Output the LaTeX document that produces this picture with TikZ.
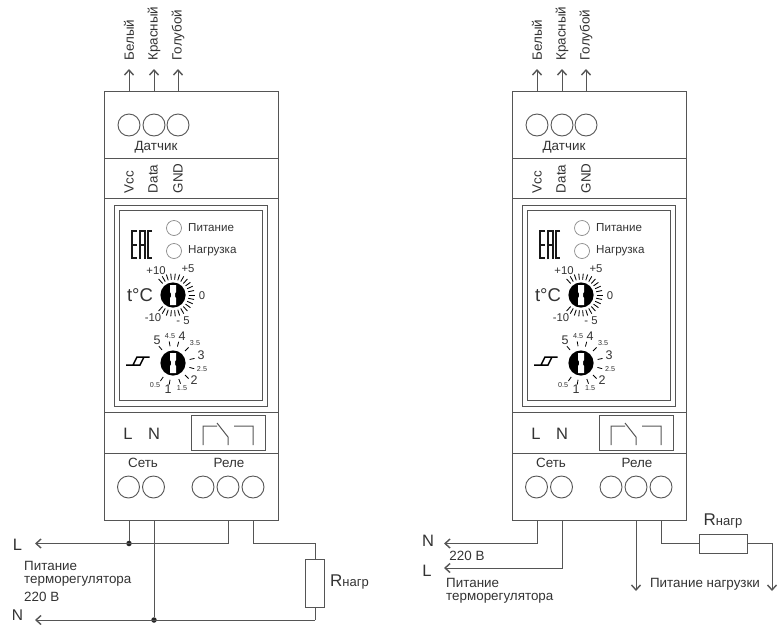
\documentclass[tikz,border=0pt]{standalone}
\usepackage{fontspec}
\setmainfont{Liberation Sans}
\definecolor{wirec}{HTML}{555555}
\definecolor{ledc}{HTML}{8A8A8A}
\definecolor{txtc}{HTML}{333333}
\usetikzlibrary{arrows.meta}
\tikzset{
  wire/.style={draw=wirec,line width=1pt},
  arr/.style={wire,-{Straight Barb[length=5pt,width=9pt,line width=1.4pt]}},
  term/.style={circle,draw=wirec,line width=0.9pt,minimum size=22pt,inner sep=0pt},
  led/.style={circle,draw=ledc,line width=0.7pt,minimum size=15pt,inner sep=0pt},
  lab/.style={inner sep=0pt,text=txtc,font=\fontsize{13.4}{15}\selectfont},
  panel/.style={lab,font=\fontsize{11.6}{13}\selectfont},
  big/.style={lab,font=\fontsize{16.5}{18}\selectfont},
  num/.style={lab,font=\fontsize{11.3}{13}\selectfont},
  sm/.style={lab,font=\fontsize{7.2}{8}\selectfont},
  md/.style={lab,font=\fontsize{12.5}{14}\selectfont},
  dot/.style={circle,fill=black!85,inner sep=0pt,minimum size=5.5pt},
  resis/.style={draw=wirec,line width=1pt,fill=white,inner sep=0pt},
  frame/.style={draw=wirec,line width=1pt},
}
\newcommand\knob[2]{%
  \fill[black] (#1,#2) circle (12.6);
  \fill[white] (#1-3,#2-10) -- (#1+3,#2-10) -- (#1+3,#2-3) -- (#1+2,#2-1.5) -- (#1+2,#2+1.5) -- (#1+3,#2+3) -- (#1+3,#2+10) -- (#1-3,#2+10) -- (#1-3,#2+3) -- (#1-2,#2+1.5) -- (#1-2,#2-1.5) -- (#1-3,#2-3) -- cycle;
}
\newcommand\device[1]{%
  \draw[frame] (104,91) rectangle (278,520);
  \draw[frame] (104,158) -- (278,158) (104,198) -- (278,198) (104,412) -- (278,412) (104,453) -- (278,453);
  \draw[frame] (114,205) rectangle (267,406);
  \draw[frame,line width=0.9pt] (119,210.5) rectangle (262.5,400.5);
  % top terminals
  \node[term] (#1t1) at (129,125) {};
  \node[term] (#1t2) at (154,125) {};
  \node[term] (#1t3) at (178,125) {};
  \coordinate (#1a1) at (129,91); \coordinate (#1b1) at (129,69);
  \coordinate (#1a2) at (154,91); \coordinate (#1b2) at (154,69);
  \coordinate (#1a3) at (178,91); \coordinate (#1b3) at (178,69);
  \draw[arr] (#1a1) -- (#1b1);
  \draw[arr] (#1a2) -- (#1b2);
  \draw[arr] (#1a3) -- (#1b3);
  \node[lab,rotate=90,anchor=west] (#1w1) at (129,60.7) {Белый};
  \node[lab,rotate=90,anchor=west] (#1w2) at (154,60.7) {Красный};
  \node[lab,rotate=90,anchor=west] (#1w3) at (178,60.7) {Голубой};
  \node[lab] (#1dat) at (156,147.5) {Датчик};
  \node[lab,rotate=90,anchor=west] (#1vcc) at (129,193.3) {Vcc};
  \node[lab,rotate=90,anchor=west] (#1data) at (153,193.3) {Data};
  \node[lab,rotate=90,anchor=west] (#1gnd) at (178,193.3) {GND};
  % leds
  \node[led] (#1led1) at (174,228) {};
  \node[led] (#1led2) at (174,251) {};
  \node[panel,anchor=west] (#1pit) at (188,228) {Питание};
  \node[panel,anchor=west] (#1nag) at (188,251) {Нагрузка};
  % EAC
  \draw[black!90,line width=2pt] (137,230.5) -- (131.5,230.5) -- (131.5,258) -- (137,258) (131.5,244.5) -- (136.5,244.5)
     (139.8,259) -- (139.8,230.5) -- (144.8,230.5) -- (144.8,259) (139.8,245) -- (144.8,245)
     (152,230.5) -- (147.8,230.5) -- (147.8,258) -- (152,258);
  % knobs
  \knob{173}{295}
  \foreach \a in {-132,-120,-108,-96,-84,-72,-60,-48,-36,-24,-12,0,12,24,36,48,60,72,84,96,108,120,132}
    \draw[black,line width=0.85pt] (173,295) ++(-\a:15.5) -- ++(-\a:6);
  \node[font=\fontsize{18.5}{20}\selectfont,text=txtc,inner sep=0pt] (#1tc) at (140,295) {t°C};
  \node[num] (#1m1) at (156,271) {+10};
  \node[num] (#1m2) at (188,269) {+5};
  \node[num] (#1m3) at (202,295.5) {0};
  \node[num] (#1m4) at (153,318) {-10};
  \node[num] (#1m5) at (183,321) {- 5};
  \knob{173}{363}
  \foreach \a in {130,100,75,45,12,-15,-45,-70,-100,-125}
    \draw[black,line width=0.8pt] (173,363) ++(-\a:17) -- ++(-\a:5);
  \node[md] (#1h1) at (157,340) {5};
  \node[sm] (#1h2) at (170,336) {4.5};
  \node[md] (#1h3) at (182,336) {4};
  \node[sm] (#1h4) at (195,343) {3.5};
  \node[md] (#1h5) at (201,355) {3};
  \node[sm] (#1h6) at (202,369.5) {2.5};
  \node[md] (#1h7) at (194,380) {2};
  \node[sm] (#1h8) at (182,388) {1.5};
  \node[md] (#1h9) at (168,389.5) {1};
  \node[sm] (#1h10) at (155,385) {0.5};
  \draw[black,line width=1.5pt] (126,365) -- (140,365) -- (144,357) -- (149.5,357) (133,365) -- (137,357) -- (144,357);
  % lower part
  \node[big] (#1L) at (128,433.5) {L};
  \node[big] (#1N) at (154,433.5) {N};
  \node[draw=wirec,line width=1pt,minimum width=74pt,minimum height=35pt,inner sep=0pt] (#1rel) at (228,432.5) {};
  \draw[wire] (203,445) -- (203,426) -- (217,426) (217,423) -- (228,437) -- (228,445) (234,426) -- (253,426) -- (253,445);
  \node[lab] (#1set) at (143,463) {Сеть};
  \node[lab] (#1rele) at (229,463) {Реле};
  \node[term] (#1s1) at (128.5,487) {};
  \node[term] (#1s2) at (153.5,487) {};
  \node[term] (#1s3) at (203,487) {};
  \node[term] (#1s4) at (228,487) {};
  \node[term] (#1s5) at (253,487) {};
  \coordinate (#1o1) at (129,520);
  \coordinate (#1o2) at (154,520);
  \coordinate (#1o3) at (228,520);
  \coordinate (#1o4) at (253,520);
}
\begin{document}
\begin{tikzpicture}[x=1pt,y=-1pt]
\useasboundingbox[fill=white] (0,0) rectangle (778,624);
\device{A}
\begin{scope}[xshift=408pt]
\device{B}
\end{scope}
% left wiring
\node[dot] (d1) at (129,543.5) {};
\node[dot] (d2) at (154,620) {};
\coordinate (aL) at (35,543.5);
\coordinate (aN) at (35,620);
\coordinate (rt) at (315,543.5);
\coordinate (rb) at (315,620);
\node[resis,minimum width=19pt,minimum height=48pt] (r1) at (315,583) {};
\draw[wire] (Ao1) -- (d1);
\draw[wire] (Ao2) -- (d2);
\draw[arr] (Ao3) -- (Ao3 |- d1) -- (aL);
\draw[wire] (Ao4) -- (Ao4 |- rt) -- (rt) -- (r1.north);
\draw[wire] (r1.south) -- (rb);
\draw[arr] (rb) -- (aN);
\node[big] (lL) at (17.5,544.5) {L};
\node[big,font=\fontsize{15.5}{16}\selectfont] (lN) at (17.5,615.5) {N};
\node[lab,anchor=west] (lt1) at (24,566) {Питание};
\node[lab,anchor=west] (lt2) at (24,581.5) {терморегулятора};
\node[lab,anchor=west] (lt3) at (24,597) {220 В};
\node[anchor=west,inner sep=0pt,text=txtc] (lr) at (330,582) {\fontsize{17}{18}\selectfont R\fontsize{13}{14}\selectfont нагр};
% right wiring
\coordinate (bN) at (444,543.5);
\coordinate (bL) at (444,568);
\coordinate (bd1) at (636,591);
\coordinate (be) at (772,591);
\node[resis,minimum width=48pt,minimum height=19pt] (r2) at (723,543.5) {};
\draw[arr] (Bo1) -- (Bo1 |- bN) -- (bN);
\draw[arr] (Bo2) -- (Bo2 |- bL) -- (bL);
\draw[arr] (Bo3) -- (bd1);
\draw[wire] (Bo4) -- (Bo4 |- r2) -- (r2.west);
\draw[arr] (r2.east) -- (r2.east -| be) -- (be);
\node[big] (rN) at (428,541) {N};
\node[big] (rL) at (427,571) {L};
\node[lab] (rt3) at (467,556) {220 В};
\node[lab,anchor=west] (rt1) at (446,583) {Питание};
\node[lab,anchor=west] (rt2) at (446,598.5) {терморегулятора};
\node[lab] (rpn) at (705,584) {Питание нагрузки};
\node[inner sep=0pt,text=txtc] (rr) at (723,521) {\fontsize{17}{18}\selectfont R\fontsize{13}{14}\selectfont нагр};
\end{tikzpicture}
\end{document}
